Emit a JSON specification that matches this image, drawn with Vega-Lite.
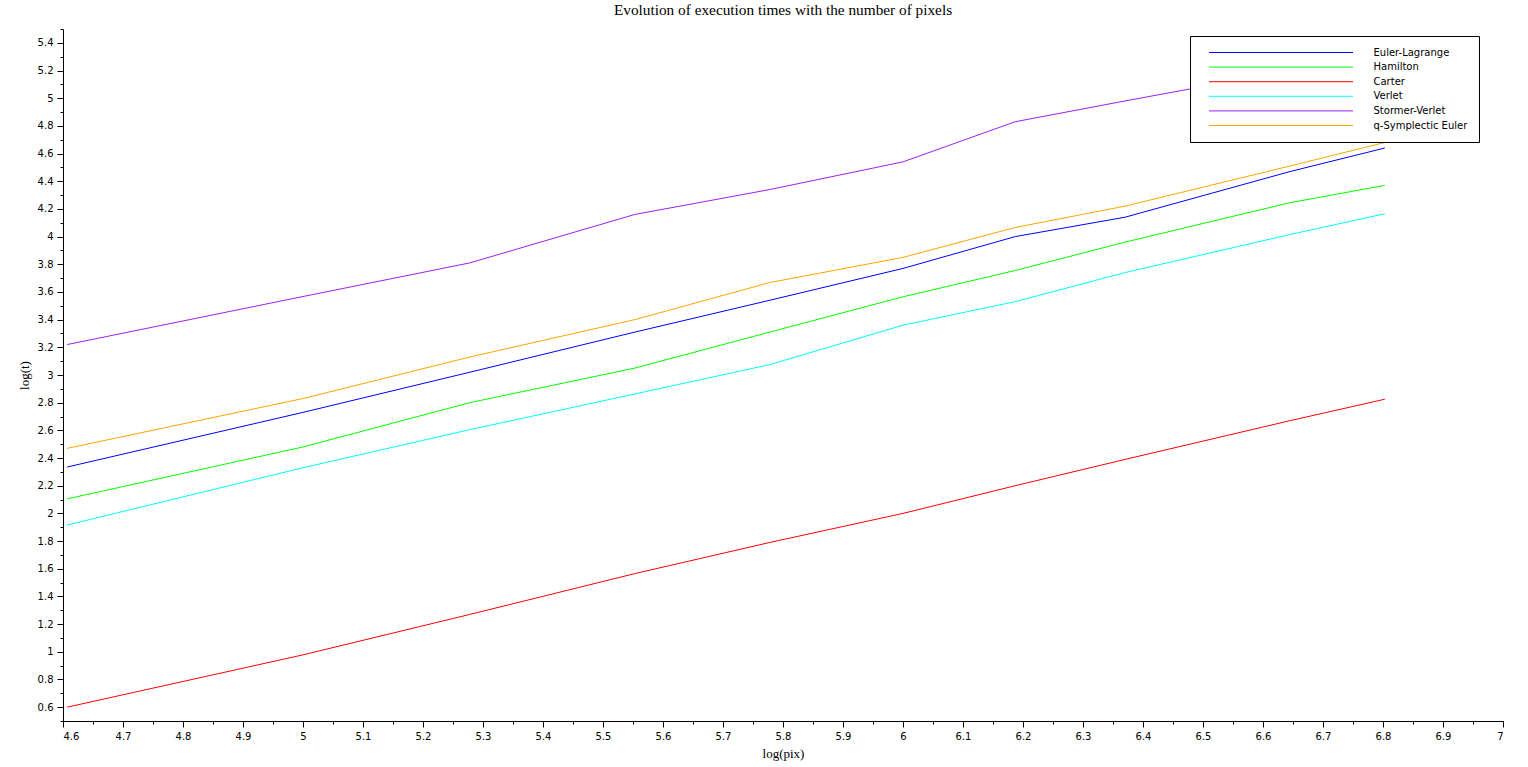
{
  "$schema": "https://vega.github.io/schema/vega-lite/v6.json",
  "width": 1440,
  "height": 692,
  "autosize": "none",
  "padding": {"left": 63, "top": 29, "right": 25, "bottom": 46},
  "background": "white",
  "title": {
    "text": "Evolution of execution times with the number of pixels",
    "font": "Liberation Serif",
    "fontSize": 15.3,
    "fontWeight": "normal",
    "color": "black",
    "anchor": "middle",
    "offset": 10
  },
  "config": {
    "view": {"stroke": null},
    "axis": {
      "domainColor": "black",
      "tickColor": "black",
      "labelColor": "black",
      "labelFont": "DejaVu Sans",
      "labelFontSize": 10,
      "titleFont": "Liberation Serif",
      "titleFontSize": 13,
      "titleFontWeight": "normal",
      "titleColor": "black",
      "grid": false
    }
  },
  "data": {
    "values": [
      {"method": "Euler-Lagrange", "x": 4.607, "y": 2.335},
      {"method": "Euler-Lagrange", "x": 5.0, "y": 2.73},
      {"method": "Euler-Lagrange", "x": 5.278, "y": 3.02},
      {"method": "Euler-Lagrange", "x": 5.553, "y": 3.31},
      {"method": "Euler-Lagrange", "x": 5.778, "y": 3.54},
      {"method": "Euler-Lagrange", "x": 6.0, "y": 3.77},
      {"method": "Euler-Lagrange", "x": 6.187, "y": 4.0},
      {"method": "Euler-Lagrange", "x": 6.37, "y": 4.14},
      {"method": "Euler-Lagrange", "x": 6.645, "y": 4.47},
      {"method": "Euler-Lagrange", "x": 6.803, "y": 4.64},
      {"method": "Hamilton", "x": 4.607, "y": 2.105},
      {"method": "Hamilton", "x": 5.0, "y": 2.48},
      {"method": "Hamilton", "x": 5.278, "y": 2.8},
      {"method": "Hamilton", "x": 5.553, "y": 3.05},
      {"method": "Hamilton", "x": 5.778, "y": 3.31},
      {"method": "Hamilton", "x": 6.0, "y": 3.565},
      {"method": "Hamilton", "x": 6.187, "y": 3.755},
      {"method": "Hamilton", "x": 6.37, "y": 3.96},
      {"method": "Hamilton", "x": 6.645, "y": 4.245},
      {"method": "Hamilton", "x": 6.803, "y": 4.37},
      {"method": "Carter", "x": 4.607, "y": 0.6},
      {"method": "Carter", "x": 5.0, "y": 0.978},
      {"method": "Carter", "x": 5.278, "y": 1.27},
      {"method": "Carter", "x": 5.553, "y": 1.565},
      {"method": "Carter", "x": 5.778, "y": 1.79},
      {"method": "Carter", "x": 6.0, "y": 2.0},
      {"method": "Carter", "x": 6.187, "y": 2.2},
      {"method": "Carter", "x": 6.37, "y": 2.39},
      {"method": "Carter", "x": 6.645, "y": 2.67},
      {"method": "Carter", "x": 6.803, "y": 2.825},
      {"method": "Verlet", "x": 4.607, "y": 1.916},
      {"method": "Verlet", "x": 5.0, "y": 2.33},
      {"method": "Verlet", "x": 5.278, "y": 2.605},
      {"method": "Verlet", "x": 5.553, "y": 2.863},
      {"method": "Verlet", "x": 5.778, "y": 3.075},
      {"method": "Verlet", "x": 6.0, "y": 3.36},
      {"method": "Verlet", "x": 6.187, "y": 3.53},
      {"method": "Verlet", "x": 6.37, "y": 3.74},
      {"method": "Verlet", "x": 6.645, "y": 4.015},
      {"method": "Verlet", "x": 6.803, "y": 4.165},
      {"method": "Stormer-Verlet", "x": 4.607, "y": 3.22},
      {"method": "Stormer-Verlet", "x": 5.0, "y": 3.567},
      {"method": "Stormer-Verlet", "x": 5.278, "y": 3.81},
      {"method": "Stormer-Verlet", "x": 5.553, "y": 4.16},
      {"method": "Stormer-Verlet", "x": 5.778, "y": 4.34},
      {"method": "Stormer-Verlet", "x": 6.0, "y": 4.54},
      {"method": "Stormer-Verlet", "x": 6.187, "y": 4.83},
      {"method": "Stormer-Verlet", "x": 6.37, "y": 4.98},
      {"method": "Stormer-Verlet", "x": 6.645, "y": 5.2},
      {"method": "Stormer-Verlet", "x": 6.803, "y": 5.3},
      {"method": "q-Symplectic Euler", "x": 4.607, "y": 2.47},
      {"method": "q-Symplectic Euler", "x": 5.0, "y": 2.83},
      {"method": "q-Symplectic Euler", "x": 5.278, "y": 3.13},
      {"method": "q-Symplectic Euler", "x": 5.553, "y": 3.4},
      {"method": "q-Symplectic Euler", "x": 5.778, "y": 3.668},
      {"method": "q-Symplectic Euler", "x": 6.0, "y": 3.85},
      {"method": "q-Symplectic Euler", "x": 6.187, "y": 4.066},
      {"method": "q-Symplectic Euler", "x": 6.37, "y": 4.22},
      {"method": "q-Symplectic Euler", "x": 6.645, "y": 4.51},
      {"method": "q-Symplectic Euler", "x": 6.803, "y": 4.68}
    ]
  },
  "resolve": {"axis": {"x": "independent", "y": "independent"}},
  "layer": [
    {
      "mark": {"type": "line", "strokeWidth": 1, "opacity": 0},
      "encoding": {
        "x": {
          "field": "x", "type": "quantitative",
          "scale": {"domain": [4.6, 7], "nice": false, "zero": false},
          "axis": {
            "orient": "bottom",
            "values": [4.6, 4.65, 4.7, 4.75, 4.8, 4.85, 4.9, 4.95, 5.0, 5.05, 5.1, 5.15, 5.2, 5.25, 5.3, 5.35, 5.4, 5.45, 5.5, 5.55, 5.6, 5.65, 5.7, 5.75, 5.8, 5.85, 5.9, 5.95, 6.0, 6.05, 6.1, 6.15, 6.2, 6.25, 6.3, 6.35, 6.4, 6.45, 6.5, 6.55, 6.6, 6.65, 6.7, 6.75, 6.8, 6.85, 6.9, 6.95, 7.0],
            "labels": false, "tickSize": 3, "domain": false, "title": null
          }
        },
        "y": {
          "field": "y", "type": "quantitative",
          "scale": {"domain": [0.5, 5.5], "nice": false, "zero": false},
          "axis": {
            "orient": "left",
            "values": [0.5, 0.6, 0.7, 0.8, 0.9, 1.0, 1.1, 1.2, 1.3, 1.4, 1.5, 1.6, 1.7, 1.8, 1.9, 2.0, 2.1, 2.2, 2.3, 2.4, 2.5, 2.6, 2.7, 2.8, 2.9, 3.0, 3.1, 3.2, 3.3, 3.4, 3.5, 3.6, 3.7, 3.8, 3.9, 4.0, 4.1, 4.2, 4.3, 4.4, 4.5, 4.6, 4.7, 4.8, 4.9, 5.0, 5.1, 5.2, 5.3, 5.4, 5.5],
            "labels": false, "tickSize": 3, "domain": false, "title": null
          }
        },
        "detail": {"field": "method"}
      }
    },
    {
      "mark": {"type": "line", "strokeWidth": 1},
      "encoding": {
        "x": {
          "field": "x", "type": "quantitative",
          "scale": {"domain": [4.6, 7], "nice": false, "zero": false},
          "axis": {
            "orient": "bottom",
            "values": [4.6, 4.7, 4.8, 4.9, 5.0, 5.1, 5.2, 5.3, 5.4, 5.5, 5.6, 5.7, 5.8, 5.9, 6.0, 6.1, 6.2, 6.3, 6.4, 6.5, 6.6, 6.7, 6.8, 6.9, 7.0],
            "format": "~g",
            "tickSize": 6,
            "labelPadding": 4,
            "title": "log(pix)",
            "titlePadding": 6
          }
        },
        "y": {
          "field": "y", "type": "quantitative",
          "scale": {"domain": [0.5, 5.5], "nice": false, "zero": false},
          "axis": {
            "orient": "left",
            "values": [0.6, 0.8, 1.0, 1.2, 1.4, 1.6, 1.8, 2.0, 2.2, 2.4, 2.6, 2.8, 3.0, 3.2, 3.4, 3.6, 3.8, 4.0, 4.2, 4.4, 4.6, 4.8, 5.0, 5.2, 5.4],
            "format": "~g",
            "tickSize": 6,
            "labelPadding": 4,
            "title": "log(t)",
            "titlePadding": 6
          }
        },
        "color": {
          "field": "method", "type": "nominal",
          "scale": {
            "domain": ["Euler-Lagrange", "Hamilton", "Carter", "Verlet", "Stormer-Verlet", "q-Symplectic Euler"],
            "range": ["#0000FF", "#00FF00", "#FF0000", "#00FFFF", "#A020F0", "#FFA500"]
          },
          "legend": {
            "title": null,
            "orient": "none",
            "legendX": 1127,
            "legendY": 7,
            "symbolType": "M-14.4,0H14.4",
            "symbolSize": 100,
            "symbolStrokeWidth": 1,
            "symbolOffset": 74.5,
            "labelOffset": 87,
            "rowPadding": 3.6,
            "labelExpr": "datum.label + '\u00a0\u00a0'",
            "labelFont": "DejaVu Sans",
            "labelFontSize": 10,
            "labelColor": "black",
            "strokeColor": "black",
            "fillColor": "white",
            "padding": 11
          }
        }
      }
    }
  ]
}
